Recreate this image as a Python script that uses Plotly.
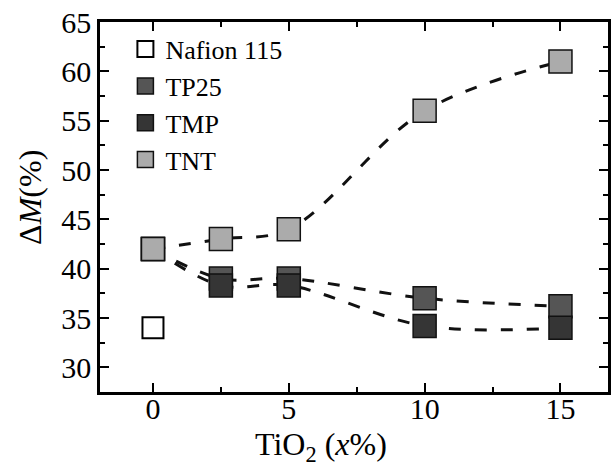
import plotly.graph_objects as go

# data
x_tio2 = [0, 2.5, 5, 10, 15]
nafion_x = [0]
nafion_y = [34]
tp25_y = [42, 39, 39, 37, 36.2]
tmp_y = [42, 38.3, 38.3, 34.2, 34]
tnt_y = [42, 43, 44, 56, 61]

x_ticks = [0, 5, 10, 15]
y_ticks = [30, 35, 40, 45, 50, 55, 60, 65]

FONT = "Liberation Serif"
fig = go.Figure()

def series(name, y, color):
    fig.add_trace(go.Scatter(
        x=x_tio2, y=y, mode="lines", showlegend=False, hoverinfo="skip",
        line=dict(color="#111", width=3, dash="12px,14px", shape="spline", smoothing=1.0),
    ))
    fig.add_trace(go.Scatter(
        x=x_tio2, y=y, name=name, mode="markers",
        marker=dict(symbol="square", size=23, color=color, line=dict(color="#111", width=1.5)),
    ))

fig.add_trace(go.Scatter(
    x=nafion_x, y=nafion_y, name="Nafion 115", mode="markers",
    marker=dict(symbol="square-open", size=21, color="black", line=dict(width=2)),
))
series("TP25", tp25_y, "#555555")
series("TMP", tmp_y, "#353535")
series("TNT", tnt_y, "#ababab")

axis_common = dict(
    showline=True, linecolor="black", linewidth=2.5, mirror="allticks",
    ticks="inside", ticklen=9, tickwidth=2, tickcolor="black",
    showgrid=False, zeroline=False,
    tickfont=dict(family=FONT, size=30, color="black"),
)

fig.update_xaxes(
    range=[-1.95, 16.75], tickvals=x_ticks, **axis_common,
    ticklabelstandoff=-12,
    minor=dict(ticks="inside", dtick=2.5, tick0=0, ticklen=5, tickwidth=2, tickcolor="black"),
)
fig.update_yaxes(
    range=[27.5, 65], tickvals=y_ticks, **axis_common,
    minor=dict(ticks="inside", dtick=2.5, tick0=0, ticklen=5, tickwidth=2, tickcolor="black"),
)

fig.add_annotation(
    text="TiO<sub>2</sub> (<i>x</i>%)", xref="paper", yref="paper",
    x=0.436, y=-0.208, xanchor="center", yanchor="bottom", showarrow=False,
    font=dict(family=FONT, size=32, color="black"),
)
fig.add_annotation(
    text="Δ<i>M</i>(%)", xref="paper", yref="paper", textangle=-90,
    x=-0.138, y=0.527, xanchor="center", yanchor="middle", showarrow=False,
    font=dict(family=FONT, size=32, color="black"),
)

fig.update_layout(
    width=612, height=471,
    margin=dict(l=100, r=1, t=22, b=79),
    paper_bgcolor="white", plot_bgcolor="white",
    showlegend=True,
    legend=dict(
        x=0.05, y=0.99, xanchor="left", yanchor="top",
        font=dict(family=FONT, size=26, color="black"),
        bgcolor="rgba(0,0,0,0)", tracegroupgap=0,
    ),
)

fig.write_html("out.html")
